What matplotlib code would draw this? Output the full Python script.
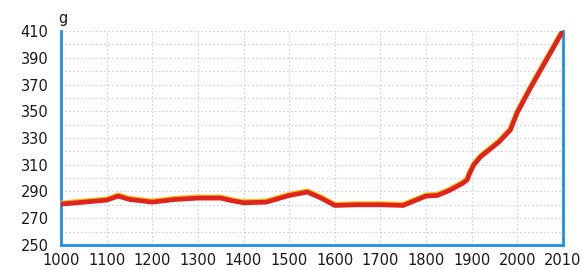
import numpy as np
import matplotlib.pyplot as plt
import matplotlib.patheffects as pe

# achsenbeschriftung (2010 steht im gleichen abstand wie die jahrhunderte)
tick_years = [1000, 1100, 1200, 1300, 1400, 1500, 1600, 1700, 1800, 1900, 2000, 2010]
tick_labels = [str(y) for y in tick_years]
y_ticks = [250, 270, 290, 310, 330, 350, 370, 390, 410]

# werte
years = [1000, 1050, 1100, 1125, 1150, 1200, 1250, 1300, 1350, 1375, 1400, 1450,
         1500, 1540, 1570, 1600, 1650, 1700, 1750, 1775, 1800, 1825, 1850, 1880,
         1890, 1895, 1905, 1920, 1960, 1985, 2000, 2003, 2010]
values = [280.5, 282, 283.5, 286.5, 284, 282, 284, 285, 285, 283, 281.5, 282,
          287, 289.5, 285, 279.5, 280, 280, 279.5, 283, 286.5, 287, 290.5, 296,
          298.5, 303, 310, 316, 327, 336, 349, 368, 410]

pos = np.interp(years, tick_years, np.arange(len(tick_years)))

fig = plt.figure(figsize=(5.82, 2.7), dpi=100)
ax = fig.add_axes([0.105, 0.093, 0.862, 0.792])

blue = '#1f90e6'
ax.plot(pos, values, color='#e0231c', lw=3.4, solid_capstyle='round', solid_joinstyle='round',
        path_effects=[pe.Stroke(linewidth=3.8, foreground='#f2c21a', offset=(0, 0.7)), pe.Normal()],
        zorder=3)

ax.set_xlim(0, len(tick_years) - 1)
ax.set_ylim(250, 410)
ax.set_xticks(np.arange(len(tick_years)))
ax.set_xticklabels(tick_labels)
ax.set_yticks(y_ticks)
ax.set_yticks(np.arange(260, 410, 20), minor=True)
ax.tick_params(length=0, labelsize=10.5, colors='#1a1a1a', pad=9)
ax.tick_params(axis='x', pad=6)
ax.tick_params(which='minor', length=0)

ax.grid(True, which='both', ls=(0, (1.5, 2)), color='#c9d0df', lw=0.8)
ax.set_axisbelow(True)

for s in ['left', 'bottom', 'right']:
    ax.spines[s].set_color(blue)
    ax.spines[s].set_linewidth(2)
ax.spines['top'].set_visible(False)

ax.text(-0.006, 1.025, 'g', transform=ax.transAxes, fontsize=10.5, color='#1a1a1a',
        ha='left', va='bottom')

fig.savefig('out.png', dpi=100)
